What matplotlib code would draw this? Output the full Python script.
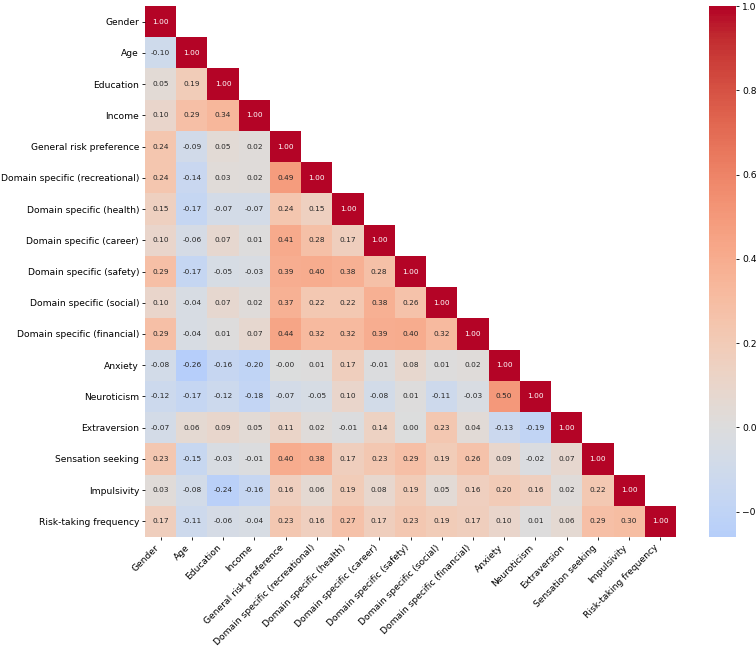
import numpy as np
import matplotlib
matplotlib.use("Agg")
import matplotlib.pyplot as plt
from matplotlib.colors import ListedColormap, Normalize, to_rgba

labels = ["Gender", "Age", "Education", "Income", "General risk preference",
          "Domain specific (recreational)", "Domain specific (health)",
          "Domain specific (career)", "Domain specific (safety)",
          "Domain specific (social)", "Domain specific (financial)",
          "Anxiety", "Neuroticism", "Extraversion", "Sensation seeking",
          "Impulsivity", "Risk-taking frequency"]

# lower triangle (incl. diagonal), row by row
rows = [
    [1.00],
    [-0.10, 1.00],
    [0.05, 0.19, 1.00],
    [0.10, 0.29, 0.34, 1.00],
    [0.24, -0.09, 0.05, 0.02, 1.00],
    [0.24, -0.14, 0.03, 0.02, 0.49, 1.00],
    [0.15, -0.17, -0.07, -0.07, 0.24, 0.15, 1.00],
    [0.10, -0.06, 0.07, 0.01, 0.41, 0.28, 0.17, 1.00],
    [0.29, -0.17, -0.05, -0.03, 0.39, 0.40, 0.38, 0.28, 1.00],
    [0.10, -0.04, 0.07, 0.02, 0.37, 0.22, 0.22, 0.38, 0.26, 1.00],
    [0.29, -0.04, 0.01, 0.07, 0.44, 0.32, 0.32, 0.39, 0.40, 0.32, 1.00],
    [-0.08, -0.26, -0.16, -0.20, -0.0, 0.01, 0.17, -0.01, 0.08, 0.01, 0.02, 1.00],
    [-0.12, -0.17, -0.12, -0.18, -0.07, -0.05, 0.10, -0.08, 0.01, -0.11, -0.03, 0.50, 1.00],
    [-0.07, 0.06, 0.09, 0.05, 0.11, 0.02, -0.01, 0.14, 0.00, 0.23, 0.04, -0.13, -0.19, 1.00],
    [0.23, -0.15, -0.03, -0.01, 0.40, 0.38, 0.17, 0.23, 0.29, 0.19, 0.26, 0.09, -0.02, 0.07, 1.00],
    [0.03, -0.08, -0.24, -0.16, 0.16, 0.06, 0.19, 0.08, 0.19, 0.05, 0.16, 0.20, 0.16, 0.02, 0.22, 1.00],
    [0.17, -0.11, -0.06, -0.04, 0.23, 0.16, 0.27, 0.17, 0.23, 0.19, 0.17, 0.10, 0.01, 0.06, 0.29, 0.30, 1.00],
]

n = len(labels)
corr = np.full((n, n), np.nan)
for i, r in enumerate(rows):
    corr[i, :len(r)] = r
data = np.ma.masked_invalid(corr)

# seaborn-style centred colormap (center=0)
vmin, vmax, center = float(data.min()), float(data.max()), 0.0
vrange = max(vmax - center, center - vmin)
base = plt.get_cmap("coolwarm")
cc = np.linspace((vmin + vrange) / (2 * vrange), (vmax + vrange) / (2 * vrange), 256)
cmap = ListedColormap(base(cc))
norm = Normalize(vmin, vmax)

fig = plt.figure(figsize=(7.56, 6.47), dpi=100)
W, H = 756, 647
ax = fig.add_axes([145 / W, (H - 537) / H, 531 / W, 531 / H])
cax = fig.add_axes([709 / W, (H - 537) / H, 27 / W, 531 / H])

mesh = ax.pcolormesh(data, cmap=cmap, norm=norm)
ax.set_xlim(0, n)
ax.set_ylim(n, 0)
for s in ax.spines.values():
    s.set_visible(False)


def lum(c):
    rgb = np.array(to_rgba(c)[:3])
    rgb = np.where(rgb <= .03928, rgb / 12.92, ((rgb + .055) / 1.055) ** 2.4)
    return rgb.dot([.2126, .7152, .0722])


for i in range(n):
    for j in range(i + 1):
        v = corr[i, j]
        col = cmap(norm(v))
        tc = ".15" if lum(col) > .408 else "w"
        ax.text(j + 0.5, i + 0.5, f"{v:.2f}", ha="center", va="center",
                fontsize=5.3, color=tc)

ax.set_xticks(np.arange(n) + 0.5)
ax.set_yticks(np.arange(n) + 0.5)
ax.set_xticklabels(labels, rotation=45, ha="right", fontsize=6.6)
ax.set_yticklabels(labels, fontsize=6.6)
ax.tick_params(length=2.3, width=0.6, pad=2)

cb = fig.colorbar(mesh, cax=cax)
cb.outline.set_visible(False)
cb.set_ticks([-0.2, 0.0, 0.2, 0.4, 0.6, 0.8, 1.0])
cb.ax.tick_params(labelsize=6.6, length=2.3, width=0.6, pad=2)

fig.savefig("out.png", dpi=100)
